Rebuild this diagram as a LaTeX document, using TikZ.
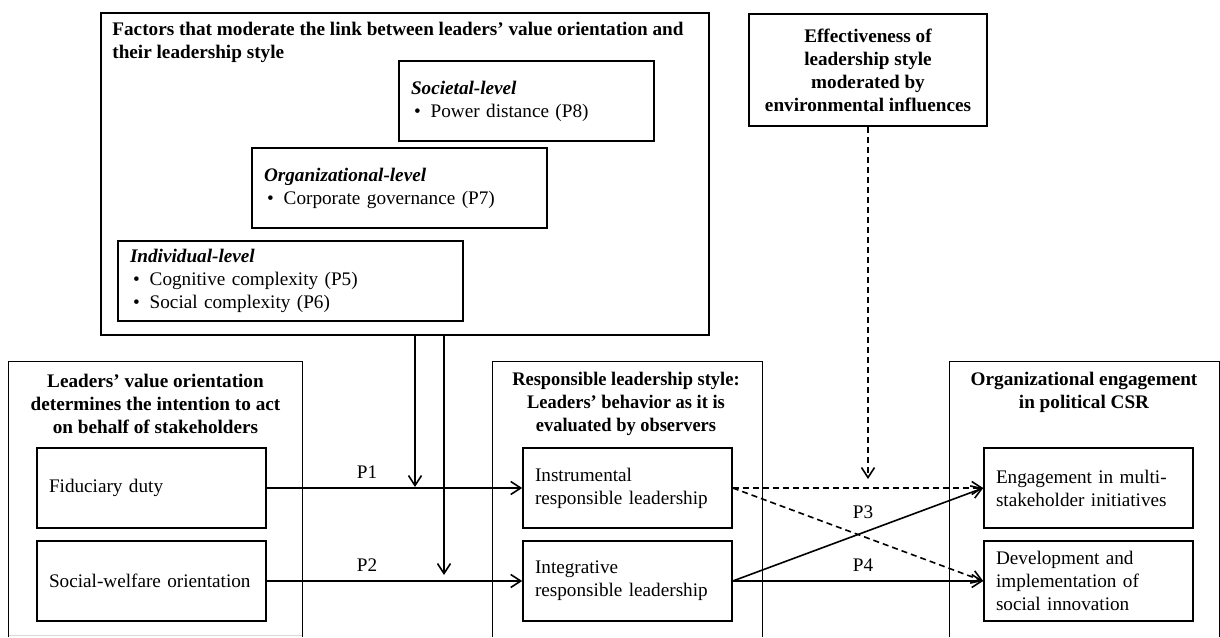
\documentclass[tikz,border=0pt]{standalone}
\usepackage{fontspec}
\setmainfont{Liberation Serif}
\newfontface\respbf[FakeStretch=0.96]{Liberation Serif Bold}
\usetikzlibrary{arrows.meta}
\tikzset{
  every node/.style={font=\fontsize{9.6}{11.5}\selectfont},
  lw/.style={line width=0.8pt},
  outerbox/.style={draw, lw, inner sep=0pt},
  openbox/.style={inner sep=0pt},
  inbox/.style={draw, lw, align=left, inner xsep=6pt, inner ysep=0pt, minimum height=40pt},
  ttl/.style={align=center, inner sep=0pt, font=\fontsize{9.6}{11.5}\selectfont\bfseries},
  lbl/.style={inner sep=0pt},
  arr/.style={lw, -{Straight Barb[length=5pt,width=6.5pt]}},
  dasharr/.style={arr, dash pattern=on 3pt off 2pt}
}
\newcommand{\bul}{\hspace*{1.5pt}\textbullet\hspace{5pt}}
\begin{document}
\begin{tikzpicture}[x=0.5pt,y=-0.5pt]
\useasboundingbox (0,0) rectangle (1220,637);
% top moderator box
\node[outerbox, minimum width=304pt, minimum height=161pt] (top) at (405,174) {};
\node[lbl, anchor=west, align=left, font=\fontsize{9.6}{11.5}\selectfont\bfseries] (toptitle) at (112,42)
  {Factors that moderate the link between leaders’ value orientation and\\their leadership style};
\node[inbox, text width=115.5pt] (soc) at (526.5,101)
  {\textbf{\textit{Societal-level}}\\\bul Power distance (P8)};
\node[inbox, text width=135.5pt] (org) at (399.5,188)
  {\textbf{\textit{Organizational-level}}\\\bul Corporate governance (P7)};
\node[inbox, text width=160.5pt] (ind) at (290.5,281)
  {\textbf{\textit{Individual-level}}\\\bul Cognitive complexity (P5)\\\bul Social complexity (P6)};
% effectiveness box
\node[draw, lw, ttl, inner sep=0pt, minimum width=119pt, minimum height=56pt] (eff) at (868,70)
  {Effectiveness of\\leadership style\\moderated by\\environmental influences};
% bottom containers
\node[openbox, minimum width=146.5pt, minimum height=137.5pt] (lead) at (155.5,499.5) {};
\node[openbox, minimum width=134.5pt, minimum height=137.5pt] (resp) at (627.5,499.5) {};
\node[openbox, minimum width=134.5pt, minimum height=137.5pt] (oeng) at (1084.5,499.5) {};
\draw[lw] (lead.south west) |- (lead.north east) -- (lead.south east);
\draw[gray!30, lw] ([yshift=1pt]lead.south west) -- ([yshift=1pt]lead.south east);
\draw[lw] (resp.south west) |- (resp.north east) -- (resp.south east);
\draw[lw] (oeng.south west) |- (oeng.north east) -- (oeng.south east);
\node[ttl] (leadtitle) at (155.5,404)
  {Leaders’ value orientation\\determines the intention to act\\on behalf of stakeholders};
\node[ttl, font=\fontsize{9.6}{11.5}\respbf] (resptitle) at (626,404)
  {Responsible leadership style:\\Leaders’ behavior as it is\\evaluated by observers};
\node[ttl] (oengtitle) at (1084,392)
  {Organizational engagement\\in political CSR};
% inner boxes
\node[inbox, text width=102.5pt] (fid) at (151.5,488) {Fiduciary duty};
\node[inbox, text width=102.5pt] (swo) at (151.5,581) {Social-welfare orientation};
\node[inbox, text width=92.5pt] (instr) at (627.5,488) {Instrumental\\responsible leadership};
\node[inbox, text width=92.5pt] (integ) at (627.5,581) {Integrative\\responsible leadership};
\node[inbox, text width=92.5pt] (engm) at (1088.5,488) {Engagement in multi-\\stakeholder initiatives};
\node[inbox, text width=92.5pt] (dev) at (1088.5,581) {Development and\\implementation of\\social innovation};
% connectors
\draw[arr] (fid.east) -- (instr.west);
\draw[arr] (swo.east) -- (integ.west);
\node[lbl] (p1) at (367,472) {P1};
\node[lbl] (p2) at (367,565) {P2};
\coordinate (m1) at (415,487);
\coordinate (m2) at (444,575);
\draw[arr] (top.south -| m1) -- (m1);
\draw[arr] (top.south -| m2) -- (m2);
\coordinate (e1) at (868,479);
\draw[dasharr] (eff.south) -- (e1);
\draw[dasharr] (instr.east) -- (engm.west);
\draw[dasharr] (instr.east) -- (dev.west);
\draw[arr] (integ.east) -- (engm.west);
\draw[arr] (integ.east) -- (dev.west);
\node[lbl] (p3) at (863,512) {P3};
\node[lbl] (p4) at (863,565) {P4};
\end{tikzpicture}
\end{document}
